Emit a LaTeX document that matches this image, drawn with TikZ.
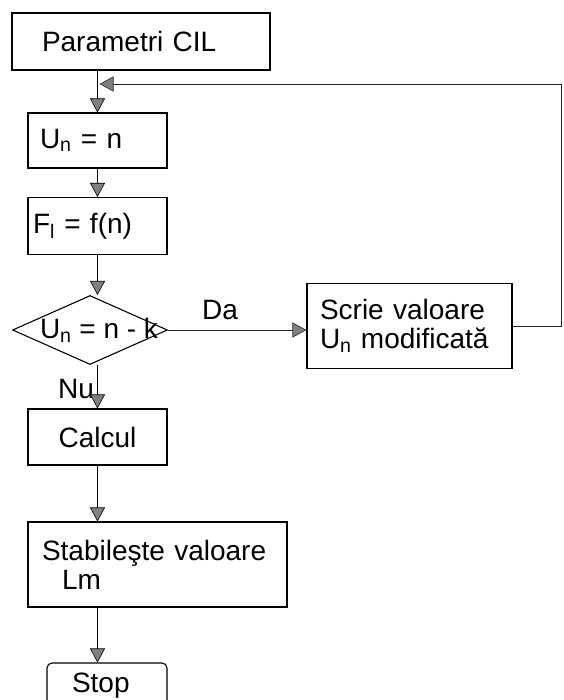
\documentclass[tikz,border=0pt]{standalone}
\usepackage{fontspec}
\setmainfont{Liberation Sans}
\usepackage{tikz}
\usetikzlibrary{arrows.meta,shapes.geometric}

\newcommand{\boxfont}{\fontsize{28}{29}\selectfont}

\begin{document}
\begin{tikzpicture}[
  x=1pt, y=-1pt,
  box/.style={draw, line width=1.1pt, inner sep=0pt, font=\boxfont, align=left},
  decision/.style={diamond, draw, line width=1.1pt, inner sep=0pt, font=\boxfont,
                   minimum width=155pt, minimum height=69pt},
  thinline/.style={line width=0.8pt, draw=black!85},
  >={Triangle[length=14pt, width=15pt, fill=black!50, line width=0.6pt]},
  line width=1.1pt
]
  \useasboundingbox (0,0) rectangle (563,700);
  \node[box, minimum width=258pt, minimum height=57pt, text width=198pt] (param) at (141, 41.5) {Parametri CIL};
  \node[box, minimum width=139pt, minimum height=55pt, text width=115pt] (un) at (97.5, 140.5) {U\textsubscript{n} = n};
  \node[box, minimum width=139pt, minimum height=57pt, text width=129pt] (fi) at (97.5, 226) {F\textsubscript{l} = f(n)};
  \node[decision] (dec) at (90, 330) {\makebox[0pt]{\hspace*{18pt}U\textsubscript{n} = n - k}};
  \node[box, minimum width=205pt, minimum height=85pt, text width=179pt] (scrie) at (409.5, 326) {Scrie valoare\\U\textsubscript{n} modificată};
  \node[box, minimum width=139pt, minimum height=56pt, align=center] (calc) at (97.5, 437) {Calcul};
  \node[box, minimum width=259pt, minimum height=85pt, text width=231pt] (stab) at (157.5, 564.5) {Stabileşte valoare\\\hspace*{20pt}Lm};
  \node[box, rounded corners=5pt, minimum width=120pt, minimum height=46pt, text width=70pt] (stop) at (107, 686) {Stop};

  % labels on the branches
  \node[font=\boxfont, inner sep=0pt] (da) at (220, 310) {Da};
  \node[font=\boxfont, inner sep=0pt] (nu) at (76, 389) {Nu};

  \draw[->] (param.south -| un) -- (un);
  \draw[->] (un) -- (fi);
  \draw[->] (fi) -- (fi |- dec.north);
  \draw[->] (calc |- dec.south) -- (calc);
  \draw[->] (calc) -- (calc |- stab.north);
  \draw[->] (stab.south -| calc) -- (calc |- stop.north);
  \draw[->, thinline] (dec.east) -- (dec.east -| scrie.west);

  % return to the top
  \coordinate (corner) at (561.5, 84);
  \coordinate (join) at (99.5, 84);
  \draw[->, thinline] (scrie.east) -| (corner) -- (join);
\end{tikzpicture}
\end{document}
